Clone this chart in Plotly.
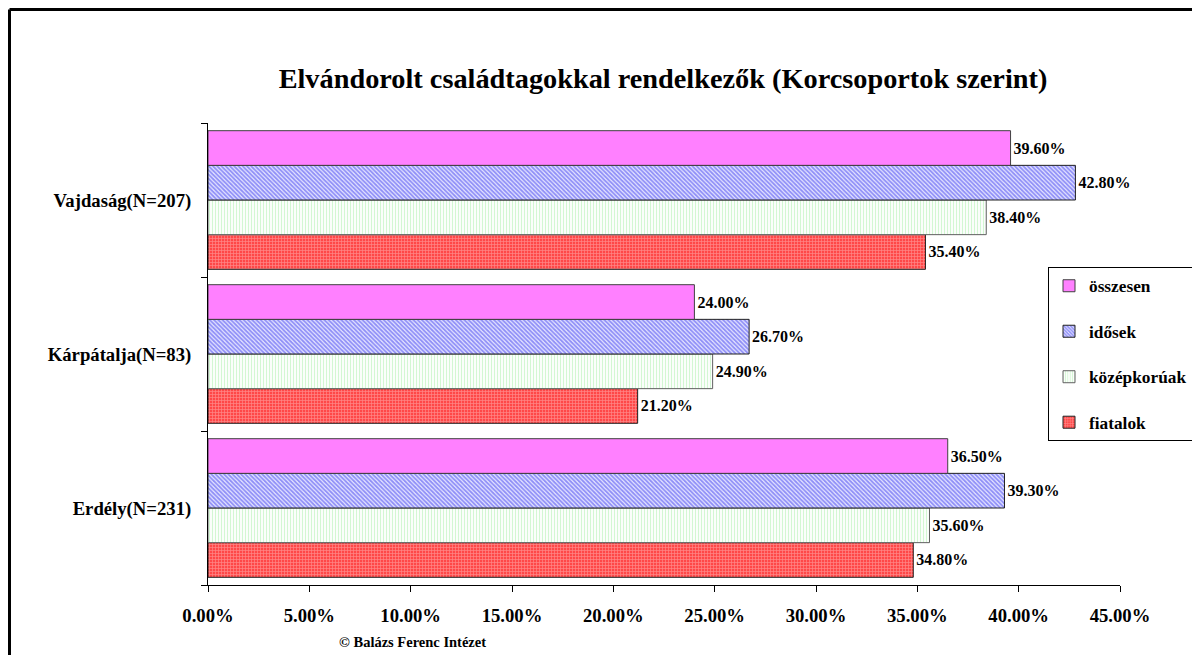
import plotly.graph_objects as go

categories = ["Erdély(N=231)", "Kárpátalja(N=83)", "Vajdaság(N=207)"]
series_names = ["fiatalok", "középkorúak", "idősek", "összesen"]
fiatalok = [0.348, 0.212, 0.354]
kozepkoruak = [0.356, 0.249, 0.384]
idosek = [0.393, 0.267, 0.428]
osszesen = [0.365, 0.240, 0.396]
x_ticks = [0.0, 0.05, 0.10, 0.15, 0.20, 0.25, 0.30, 0.35, 0.40, 0.45]

series_values = [fiatalok, kozepkoruak, idosek, osszesen]
legend_ranks = [4, 3, 2, 1]
styles = [
    dict(color="#FF5050", pattern=dict(shape="+", fgcolor="#FFC8C8", bgcolor="#FF4848", size=3, solidity=0.4), line=dict(color="#202020", width=1)),
    dict(color="#F4FFF4", pattern=dict(shape="|", fgcolor="#A8F0A8", bgcolor="#FFFFFF", size=3, solidity=0.4), line=dict(color="#606060", width=1)),
    dict(color="#8080FF", pattern=dict(shape="\\", fgcolor="#3434F0", bgcolor="#E8E8FF", size=3, solidity=0.6), line=dict(color="#202020", width=1)),
    dict(color="#FF80FF", line=dict(color="#404040", width=1)),
]

font_fam = "Liberation Serif, Times New Roman, serif"

fig = go.Figure()
for name, vals, st, rk in zip(series_names, series_values, styles, legend_ranks):
    fig.add_trace(go.Bar(
        y=categories, x=vals, name="<b>" + name + "</b>", orientation="h",
        marker=st, legendgroup=name, legendrank=rk,
        texttemplate="<b>%{x:.2%}</b>", textposition="outside",
        textfont=dict(family=font_fam, size=16, color="black"),
        cliponaxis=False,
    ))

# helpers: convert screen pixel positions to paper coords (plot area 208..1120 x, 123..585 y on screen)
def px_x(px):
    return (px - 208) / 912

def px_y(py):
    return (585 - py) / 462

fig.update_layout(
    width=1200, height=655,
    margin=dict(l=200, r=88, t=115, b=78),
    paper_bgcolor="white", plot_bgcolor="white",
    barmode="group", bargap=0.1, bargroupgap=0,
    font=dict(family=font_fam, color="black"),
    title=dict(text="<b>Elvándorolt családtagokkal rendelkezők (Korcsoportok szerint)</b>",
               x=(663 - 8) / 1200, xanchor="center", y=1 - (78 - 8) / 655, yanchor="middle",
               font=dict(size=28.3, family=font_fam, color="black")),
    xaxis=dict(range=[0, 0.45], tickvals=x_ticks,
               ticktext=["<b>" + f"{v*100:.2f}%" + "</b>" for v in x_ticks],
               showgrid=False, zeroline=False, showline=True, linecolor="black", linewidth=1,
               ticks="outside", ticklen=6, tickcolor="black", ticklabelstandoff=8,
               tickfont=dict(family=font_fam, size=18.7, color="black")),
    yaxis=dict(categoryorder="array", categoryarray=categories,
               tickvals=categories, ticktext=["<b>" + c + "</b>" for c in categories],
               showgrid=False, showline=True, linecolor="black", linewidth=1,
               ticks="outside", ticklen=6, tickcolor="black", tickson="boundaries",
               ticklabelstandoff=12,
               tickfont=dict(family=font_fam, size=18.7, color="black")),
    legend=dict(x=px_x(1048), y=px_y(267), xanchor="left", yanchor="top",
                traceorder="grouped", bordercolor="black", borderwidth=1, bgcolor="white",
                font=dict(family=font_fam, size=17.3, color="black"),
                itemwidth=30, tracegroupgap=20),
)

fig.add_annotation(text="<b>© Balázs Ferenc Intézet</b>", xref="paper", yref="paper",
                   x=px_x(412), y=px_y(642), xanchor="center", yanchor="middle",
                   showarrow=False, font=dict(family=font_fam, size=14.5, color="black"))

# outer frame
fig.add_shape(type="line", xref="paper", yref="paper", x0=px_x(9.5), x1=px_x(1250), y0=px_y(9.5), y1=px_y(9.5),
              line=dict(color="black", width=3))
fig.add_shape(type="line", xref="paper", yref="paper", x0=px_x(9.5), x1=px_x(9.5), y0=px_y(9.5), y1=px_y(700),
              line=dict(color="black", width=3))

fig.write_html("out.html")
